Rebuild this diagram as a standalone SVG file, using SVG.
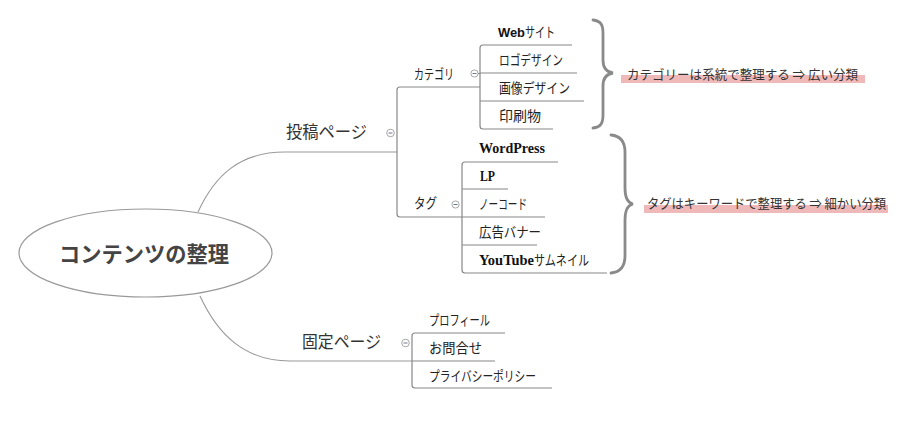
<svg xmlns="http://www.w3.org/2000/svg" width="908" height="421" viewBox="0 0 908 421">
<style>
.ln{fill:none;stroke:#888;stroke-width:1.2}
.cv{fill:none;stroke:#999;stroke-width:1.1}
.br{fill:none;stroke:#8a8a8a;stroke-width:2.8;stroke-linecap:round}
.t{font-family:"Noto Sans CJK JP","Noto Sans",sans-serif;font-size:14px;fill:#222}
.tb{font-family:"Liberation Serif","Noto Sans CJK JP",serif;font-weight:bold;font-size:14px;fill:#111}
.tw{font-family:"Liberation Sans",sans-serif;font-weight:bold;font-size:13.5px;fill:#111}
.m{font-family:"Noto Sans CJK JP","Noto Sans",sans-serif;font-size:17px;fill:#333}
.n{font-family:"Noto Sans CJK JP","Noto Sans",sans-serif;font-size:13px;fill:#333}
.hl{fill:#f0b9b9}
.cc{fill:#fff;stroke:#a8a8a8;stroke-width:1}
.cm{stroke:#6c7a90;stroke-width:1}
</style>
<rect width="908" height="421" fill="#fff"/>
<g id="connectors">
  <path class="cv" d="M198,212 C215,175 240,152 285,152 L397,152"/>
  <path class="cv" d="M200,296 C218,335 245,361 290,361 L412,361"/>
  <path class="ln" d="M400,87 L480,87"/>
  <path class="ln" d="M400,87 Q397,87 397,90 L397,214 Q397,217 400,217 L462,217"/>
  <path class="ln" d="M483,45 Q480,45 480,48 L480,126 Q480,129 483,129 L553,129"/>
  <path class="ln" d="M483,45 L572,45"/>
  <path class="ln" d="M480,73 L577,73"/>
  <path class="ln" d="M480,101 L584,101"/>
  <path class="ln" d="M465,162 Q462,162 462,165 L462,270 Q462,273 465,273 L607,273"/>
  <path class="ln" d="M465,162 L558,162"/>
  <path class="ln" d="M462,189 L508,189"/>
  <path class="ln" d="M462,217 L545,217"/>
  <path class="ln" d="M462,245 L537,245"/>
  <path class="ln" d="M415,333 Q412,333 412,336 L412,385 Q412,388 415,388 L552,388"/>
  <path class="ln" d="M415,333 L505,333"/>
  <path class="ln" d="M412,361 L495,361"/>
  <path class="br" d="M593,20 C601,21 603,25 603,33 L603,60 C603,68 606,72 613,73 C606,74 603,78 603,86 L603,115 C603,123 601,127 593,128"/>
  <path class="br" d="M611,135 C621,136 625,142 625,152 L625,188 C625,198 628,203 633,204 C628,205 625,210 625,220 L625,256 C625,266 621,272 611,273"/>
</g>
<g id="root">
  <ellipse cx="145.5" cy="253" rx="126.5" ry="44" fill="#fff" stroke="#999" stroke-width="1.2"/>
  <text x="59" y="262" textLength="170" lengthAdjust="spacingAndGlyphs" style="font-family:'Noto Sans CJK JP',sans-serif;font-weight:bold;font-size:22px;fill:#444">コンテンツの整理</text>
</g>
<g id="post">
  <text class="m" x="286" y="138" textLength="81" lengthAdjust="spacingAndGlyphs">投稿ページ</text>
  <circle class="cc" cx="390.5" cy="133" r="3.8"/><line class="cm" x1="388.5" y1="133" x2="392.5" y2="133"/>
</g>
<g id="fixed">
  <text class="m" x="302" y="348" textLength="79" lengthAdjust="spacingAndGlyphs">固定ページ</text>
  <circle class="cc" cx="405.5" cy="343" r="3.8"/><line class="cm" x1="403.5" y1="343" x2="407.5" y2="343"/>
</g>
<g id="category">
  <text class="t" x="414" y="79" textLength="40" lengthAdjust="spacingAndGlyphs">カテゴリ</text>
  <circle class="cc" cx="474.5" cy="73.5" r="3.6"/><line class="cm" x1="472.5" y1="73.5" x2="476.5" y2="73.5"/>
  <line class="ln" x1="478" y1="73.5" x2="480" y2="73.5"/>
</g>
<g id="tag">
  <text class="t" x="414" y="208" textLength="23" lengthAdjust="spacingAndGlyphs">タグ</text>
  <circle class="cc" cx="455.5" cy="204.5" r="3.6"/><line class="cm" x1="453.5" y1="204.5" x2="457.5" y2="204.5"/>
</g>
<g id="web"><text x="498" y="37"><tspan class="tw" textLength="27" lengthAdjust="spacingAndGlyphs">Web</tspan><tspan class="t" textLength="30" lengthAdjust="spacingAndGlyphs">サイト</tspan></text></g>
<g id="logo"><text class="t" x="499" y="65" textLength="64" lengthAdjust="spacingAndGlyphs">ロゴデザイン</text></g>
<g id="image"><text class="t" x="499" y="93" textLength="71" lengthAdjust="spacingAndGlyphs">画像デザイン</text></g>
<g id="print"><text class="t" x="499" y="121" textLength="42" lengthAdjust="spacingAndGlyphs">印刷物</text></g>
<g id="wordpress"><text class="tb" x="479" y="153" textLength="66" lengthAdjust="spacingAndGlyphs">WordPress</text></g>
<g id="lp"><text class="tb" x="480" y="181" textLength="15" lengthAdjust="spacingAndGlyphs">LP</text></g>
<g id="nocode"><text class="t" x="479" y="209" textLength="48" lengthAdjust="spacingAndGlyphs">ノーコード</text></g>
<g id="banner"><text class="t" x="479" y="237" textLength="62" lengthAdjust="spacingAndGlyphs">広告バナー</text></g>
<g id="youtube"><text x="479" y="265"><tspan class="tb" textLength="55" lengthAdjust="spacingAndGlyphs">YouTube</tspan><tspan class="t" textLength="55" lengthAdjust="spacingAndGlyphs">サムネイル</tspan></text></g>
<g id="profile"><text class="t" x="429" y="325" textLength="61" lengthAdjust="spacingAndGlyphs">プロフィール</text></g>
<g id="contact"><text class="t" x="429" y="353" textLength="53" lengthAdjust="spacingAndGlyphs">お問合せ</text></g>
<g id="privacy"><text class="t" x="429" y="381" textLength="107" lengthAdjust="spacingAndGlyphs">プライバシーポリシー</text></g>
<g id="note-category">
  <rect class="hl" x="621" y="75" width="244" height="8"/>
  <text class="n" x="627" y="79" textLength="231" lengthAdjust="spacingAndGlyphs">カテゴリーは系統で整理する ⇒ 広い分類</text>
</g>
<g id="note-tag">
  <rect class="hl" x="644" y="205" width="244" height="8"/>
  <text class="n" x="647" y="208" textLength="239" lengthAdjust="spacingAndGlyphs">タグはキーワードで整理する ⇒ 細かい分類</text>
</g>
</svg>
